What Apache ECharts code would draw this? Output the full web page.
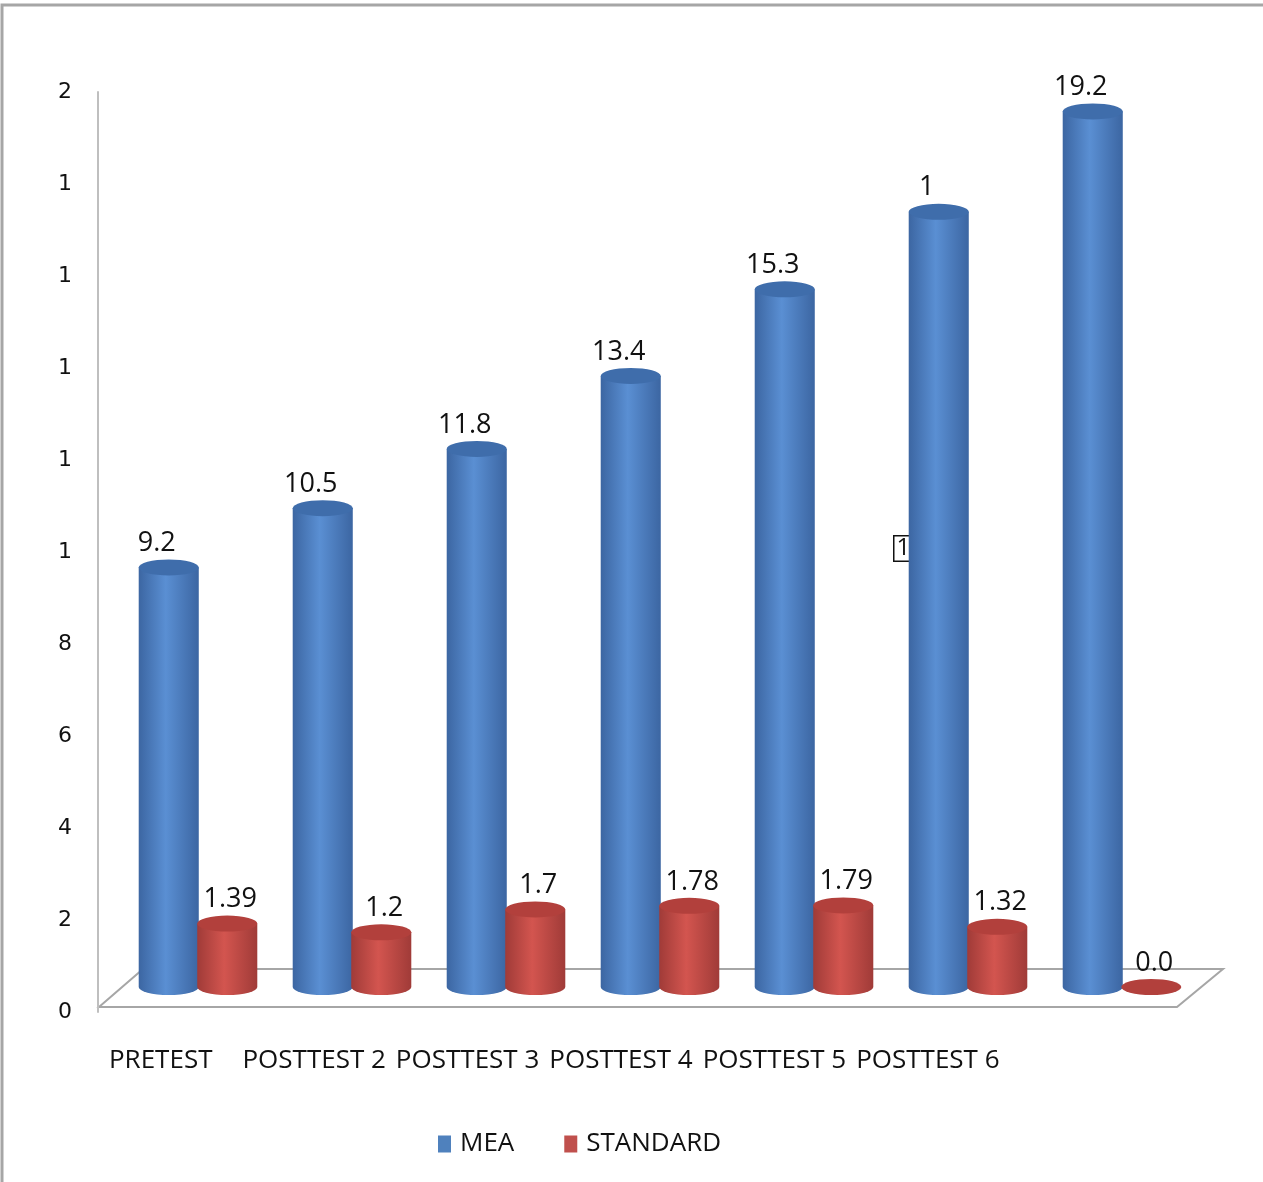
<!DOCTYPE html>
<html>
<head>
<meta charset="utf-8">
<script src="https://cdn.jsdelivr.net/npm/echarts@6/dist/echarts.min.js"></script>
<style>
  html, body { margin: 0; padding: 0; background: #fff; }
  #chart { width: 1263px; height: 1182px; }
</style>
</head>
<body>
<div id="chart"></div>
<script>
// ---- data ----
const categories = ['PRETEST', 'POSTTEST 2', 'POSTTEST 3', 'POSTTEST 4', 'POSTTEST 5', 'POSTTEST 6', ''];
const meaValues = [9.2, 10.5, 11.8, 13.4, 15.3, 17.0, 19.2];
const stdValues = [1.39, 1.2, 1.7, 1.78, 1.79, 1.32, 0.0];
const meaLabels = ['9.2', '10.5', '11.8', '13.4', '15.3', '1', '19.2'];
const stdLabels = ['1.39', '1.2', '1.7', '1.78', '1.79', '1.32', '0.0'];
const yTicks = [0, 2, 4, 6, 8, 10, 12, 14, 16, 18, 20];
const seriesNames = ['MEA', 'STANDARD'];

// ---- styling ----
const palette = [
  { base: '#4F81BD', dark: '#3C66A2', light: '#5A8FD3', top: '#3F6DAB' },
  { base: '#C0504D', dark: '#A03B38', light: '#D3554F', top: '#B2403C' }
];
const labelFont = '"Open Sans", sans-serif';

function cylinder(seriesIdx, labelTexts, dx) {
  return function (params, api) {
    const i = api.value(0);
    const v = api.value(1);
    const top = api.coord([i, v]);
    const base = api.coord([i, 0]);
    const band = api.size([1, 0])[0];
    const rx = band * 0.195;
    const ry = 8;
    const cx = top[0] + (seriesIdx === 0 ? -band * 0.19 : band * 0.19);
    const ty = top[1];
    const by = base[1];
    const c = palette[seriesIdx];
    const grad = new echarts.graphic.LinearGradient(0, 0, 1, 0, [
      { offset: 0, color: c.dark },
      { offset: 0.45, color: c.light },
      { offset: 1, color: c.dark }
    ]);
    const body = 'M' + (cx - rx) + ' ' + ty +
      ' L' + (cx - rx) + ' ' + by +
      ' A' + rx + ' ' + ry + ' 0 0 0 ' + (cx + rx) + ' ' + by +
      ' L' + (cx + rx) + ' ' + ty + ' Z';
    const cap = 'M' + (cx - rx) + ' ' + ty +
      ' A' + rx + ' ' + ry + ' 0 1 0 ' + (cx + rx) + ' ' + ty +
      ' A' + rx + ' ' + ry + ' 0 1 0 ' + (cx - rx) + ' ' + ty + ' Z';
    const children = [];
    if (by - ty > 0.5) {
      children.push({ type: 'path', shape: { pathData: body }, style: { fill: grad } });
    }
    children.push({ type: 'path', shape: { pathData: cap }, style: { fill: c.top } });
    children.push({
      type: 'text',
      style: {
        text: labelTexts[params.dataIndex],
        x: cx + dx,
        y: ty - 24,
        align: 'center',
        verticalAlign: 'middle',
        font: '27px ' + labelFont,
        fill: '#111'
      }
    });
    return { type: 'group', children: children };
  };
}

const chart = echarts.init(document.getElementById('chart'), null, { renderer: 'canvas' });

const option = {
  backgroundColor: '#ffffff',
  animation: false,
  graphic: [
    { type: 'rect', z: 0, shape: { x: 2, y: 5, width: 1400, height: 1400 },
      style: { fill: 'none', stroke: '#A6A6A6', lineWidth: 3 } },
    { type: 'polygon', z: 0, shape: { points: [[99, 1007], [143, 969], [1223, 969], [1177, 1007]] },
      style: { fill: 'none', stroke: '#A6A6A6', lineWidth: 2 } },
    { type: 'text', z: 0, left: 893, top: 535,
      style: { text: '13', font: '24px ' + labelFont, fill: '#111',
        borderColor: '#111', borderWidth: 1.5, padding: [0, 2, 0, 2], backgroundColor: '#fff' } }
  ],
  legend: {
    data: seriesNames.map((n, k) => ({ name: n, icon: 'rect', itemStyle: { color: palette[k].base } })),
    left: 433,
    top: 1126,
    itemWidth: 13,
    itemHeight: 17,
    itemGap: 50,
    textStyle: { fontFamily: labelFont, fontSize: 26, color: '#111', padding: [0, 0, 0, 4] }
  },
  grid: [
    { left: 121, right: 64, top: 75, bottom: 195 },   // bars
    { left: 98, right: 64, top: 92, bottom: 170 },    // value-axis labels
    { left: 84, right: 105, top: 92, bottom: 170 }    // category labels
  ],
  xAxis: [
    { type: 'category', gridIndex: 0, data: categories, show: false },
    { type: 'category', gridIndex: 1, data: categories, show: false },
    { type: 'category', gridIndex: 2, data: categories,
      axisLine: { show: false }, axisTick: { show: false },
      axisLabel: { interval: 0, margin: 34, fontFamily: labelFont, fontSize: 26, color: '#111', lineHeight: 30 } }
  ],
  yAxis: [
    { type: 'value', gridIndex: 0, min: 0, max: 20, interval: 2, show: false },
    { type: 'value', gridIndex: 1, min: 0, max: 20, interval: 2,
      axisLine: { show: true, lineStyle: { color: '#BFBFBF', width: 2 } },
      axisTick: { show: false },
      splitLine: { show: false },
      axisLabel: {
        margin: 26,
        fontFamily: '"DejaVu Sans", sans-serif',
        fontSize: 22,
        color: '#111',
        formatter: function (v) { return yTicks.indexOf(v) >= 0 ? String(v).charAt(0) : ''; }
      } },
    { type: 'value', gridIndex: 2, min: 0, max: 20, interval: 2, show: false }
  ],
  series: [
    {
      name: seriesNames[0], type: 'custom', xAxisIndex: 0, yAxisIndex: 0, z: 2,
      itemStyle: { color: palette[0].base },
      renderItem: cylinder(0, meaLabels, -12),
      data: meaValues.map((v, i) => [i, v])
    },
    {
      name: seriesNames[1], type: 'custom', xAxisIndex: 0, yAxisIndex: 0, z: 3,
      itemStyle: { color: palette[1].base },
      renderItem: cylinder(1, stdLabels, 3),
      data: stdValues.map((v, i) => [i, v])
    }
  ]
};
chart.setOption(option);
</script>
</body>
</html>
